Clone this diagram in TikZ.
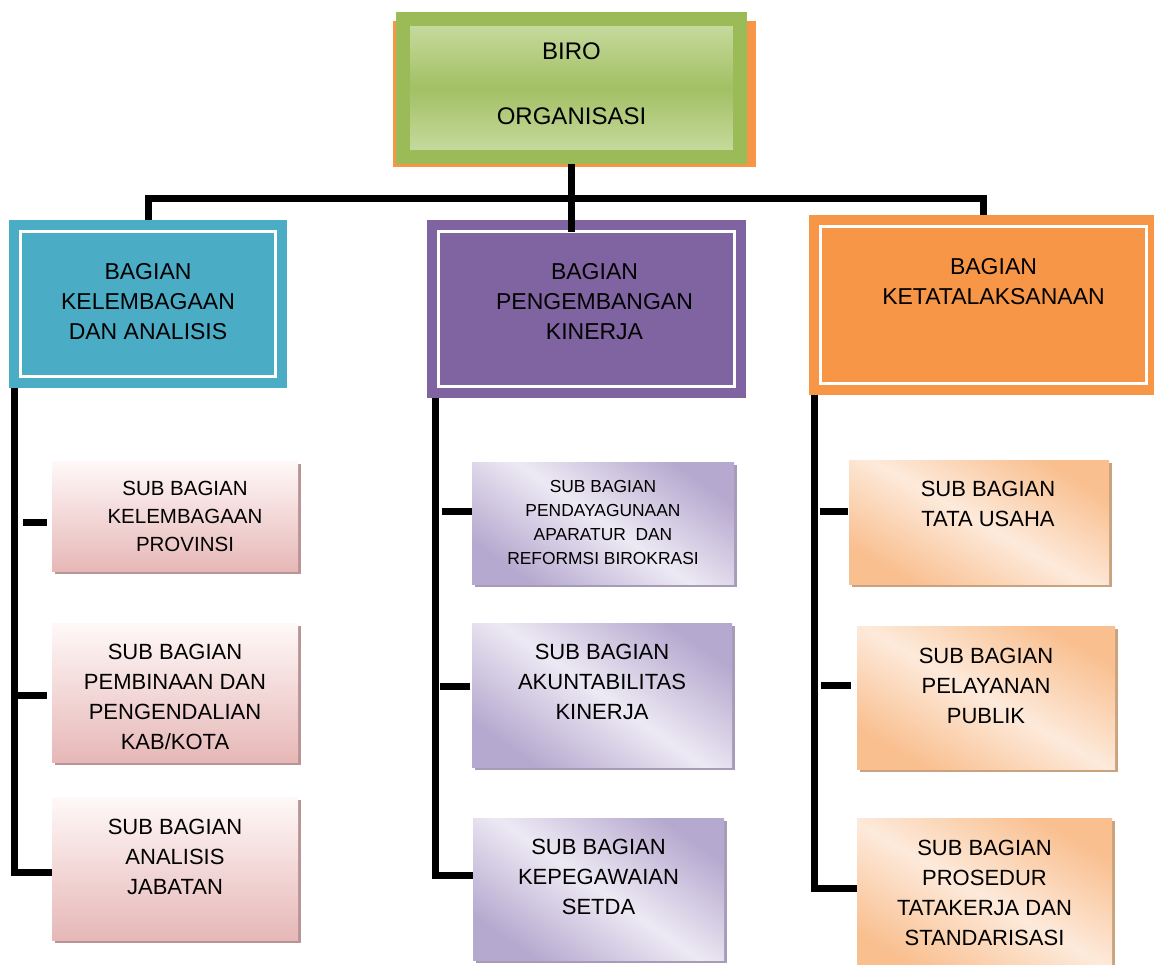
\documentclass[tikz,border=0pt]{standalone}
\usepackage{fontspec}
\setmainfont{Liberation Sans}
\usetikzlibrary{calc,shadows,backgrounds}
\definecolor{kelblue}{HTML}{4BACC6}
\definecolor{pengpurple}{HTML}{8064A2}
\definecolor{ketorange}{HTML}{F79646}
\definecolor{birogreen}{HTML}{9BBB59}
\definecolor{birolight}{HTML}{C9DCA2}
\definecolor{biromid}{HTML}{A2C064}
\definecolor{birodark}{HTML}{4F6228}
\definecolor{pinktop}{HTML}{FFF8F8}
\definecolor{pinkbot}{HTML}{E6B8B7}
\definecolor{pinkshade}{HTML}{B89494}
\definecolor{lavdark}{HTML}{B6A9CF}
\definecolor{lavlight}{HTML}{EDE9F4}
\definecolor{lavshade}{HTML}{A79BB8}
\definecolor{peachdark}{HTML}{F9BF8F}
\definecolor{peachlight}{HTML}{FDEADB}
\definecolor{peachshade}{HTML}{C9A27F}
\begin{document}
\begin{tikzpicture}[x=1pt,y=-1pt,
  link/.style={line width=7pt},
  bagian/.style={draw=#1,fill=#1,line width=10pt,double=white,double distance=3pt,inner sep=0pt,outer sep=0pt},
  txthead/.style={align=center,font=\fontsize{23}{30}\selectfont},
  txtbig/.style={align=center,font=\fontsize{22}{30}\selectfont},
  txtsmall/.style={align=center,font=\fontsize{20.5}{28}\selectfont},
  txttiny/.style={align=center,font=\fontsize{17.4}{24}\selectfont},
  subpink/.style={inner sep=0pt,top color=pinktop,bottom color=pinkbot,
    drop shadow={shadow xshift=3pt,shadow yshift=-3pt,fill=pinkshade,opacity=1}},
  sublav/.style={inner sep=0pt,top color=lavdark,bottom color=lavdark,middle color=lavlight,shading angle=-35,
    drop shadow={shadow xshift=3pt,shadow yshift=-3pt,fill=lavshade,opacity=1}},
  subpeach/.style={inner sep=0pt,top color=peachdark,bottom color=peachdark,middle color=peachlight,shading angle=-30,
    drop shadow={shadow xshift=3pt,shadow yshift=-3pt,fill=peachshade,opacity=1}}]
\useasboundingbox (0,0) rectangle (1154,964);

% biro
\node[fill=ketorange,minimum width=363,minimum height=146,inner sep=0pt] (biroback) at (574.5,94) {};
\node[draw=birogreen,line width=14pt,top color=birolight,bottom color=birolight,middle color=biromid,
  minimum width=337,minimum height=138,inner sep=0pt,outer sep=0pt,
  drop shadow={shadow xshift=0pt,shadow yshift=-3pt,fill=birodark,opacity=1},
  label={[txthead,font=\fontsize{24}{29}\selectfont,yshift=4pt]center:{BIRO\\[36pt]ORGANISASI}}] (biro) at (571.5,88) {};

% bagian
\node[bagian=kelblue,minimum width=255,minimum height=145,
  label={[txthead,yshift=2pt]center:{BAGIAN\\KELEMBAGAAN\\DAN ANALISIS}}] (bKel) at (148,304) {};
\node[bagian=pengpurple,minimum width=296,minimum height=155,
  label={[txthead,xshift=8pt,yshift=7pt]center:{BAGIAN\\PENGEMBANGAN\\KINERJA}}] (bPeng) at (586.5,309) {};
\node[bagian=ketorange,minimum width=326,minimum height=157,
  label={[txthead,xshift=10pt,yshift=23pt]center:{BAGIAN\\KETATALAKSANAAN}}] (bKet) at (983.5,305) {};

% sub bagian
\node[subpink,minimum width=246,minimum height=110,
  label={[txtsmall,xshift=10pt]center:{SUB BAGIAN\\KELEMBAGAAN\\PROVINSI}}] (kelProv) at (175,516) {};
\node[subpink,minimum width=246,minimum height=139,
  label={[txtbig,yshift=-4pt]center:{SUB BAGIAN\\PEMBINAAN DAN\\PENGENDALIAN\\KAB/KOTA}}] (kelBina) at (175,692.5) {};
\node[subpink,minimum width=246,minimum height=143,
  label={[txtbig,yshift=12pt]center:{SUB BAGIAN\\ANALISIS\\JABATAN}}] (kelJab) at (175,868.5) {};

\node[sublav,minimum width=262,minimum height=122,
  label={[txttiny]center:{SUB BAGIAN\\PENDAYAGUNAAN\\APARATUR~ DAN\\REFORMSI BIROKRASI}}] (pengPAR) at (603,523) {};
\node[sublav,minimum width=260,minimum height=144,
  label={[txtbig,yshift=13pt]center:{SUB BAGIAN\\AKUNTABILITAS\\KINERJA}}] (pengAkun) at (602,695) {};
\node[sublav,minimum width=251,minimum height=142,
  label={[txtbig,yshift=12pt]center:{SUB BAGIAN\\KEPEGAWAIAN\\SETDA}}] (pengPeg) at (598.5,889) {};

\node[subpeach,minimum width=260,minimum height=124,
  label={[txtbig,xshift=9pt,yshift=18pt]center:{SUB BAGIAN\\TATA USAHA}}] (ketTU) at (979,522) {};
\node[subpeach,minimum width=258,minimum height=143,
  label={[txtbig,yshift=12pt]center:{SUB BAGIAN\\PELAYANAN\\PUBLIK}}] (ketPel) at (986,697.5) {};
\node[subpeach,minimum width=255,minimum height=157,
  label={[txtbig,yshift=4pt]center:{SUB BAGIAN\\PROSEDUR\\TATAKERJA DAN\\STANDARISASI}}] (ketPros) at (984.5,896.5) {};

% garis
\coordinate (bus) at (573,198);
\begin{scope}[on background layer]
\draw[link] (bKel.north) |- (bus) -| (bKet.north);
\draw[link] ([xshift=-6pt]bKel.south west) |- ([yshift=-4pt]kelJab.west);
\draw[link] ([xshift=-3.5pt]bPeng.south west) |- ([yshift=14pt]pengPeg.west);
\draw[link] ([xshift=-6.5pt]bKet.south west) |- ([yshift=8pt]ketPros.west);
\end{scope}
\draw[link] ([yshift=-7pt]biro.south) -- (biro.south |- bPeng.north);

\draw[link] ($(kelProv.west)+(-29,6)$) -- ++(24,0);
\draw[link] ($(kelBina.west)+(-36,2.5)$) -- ++(31,0);
\draw[link] ($(pengPAR.west)+(-30,-12)$) -- ++(30,0);
\draw[link] ($(pengAkun.west)+(-32,-9)$) -- ++(30,0);
\draw[link] ($(ketTU.west)+(-29,-11)$) -- ++(28,0);
\draw[link] ($(ketPel.west)+(-36,-12.5)$) -- ++(30,0);
\end{tikzpicture}
\end{document}
